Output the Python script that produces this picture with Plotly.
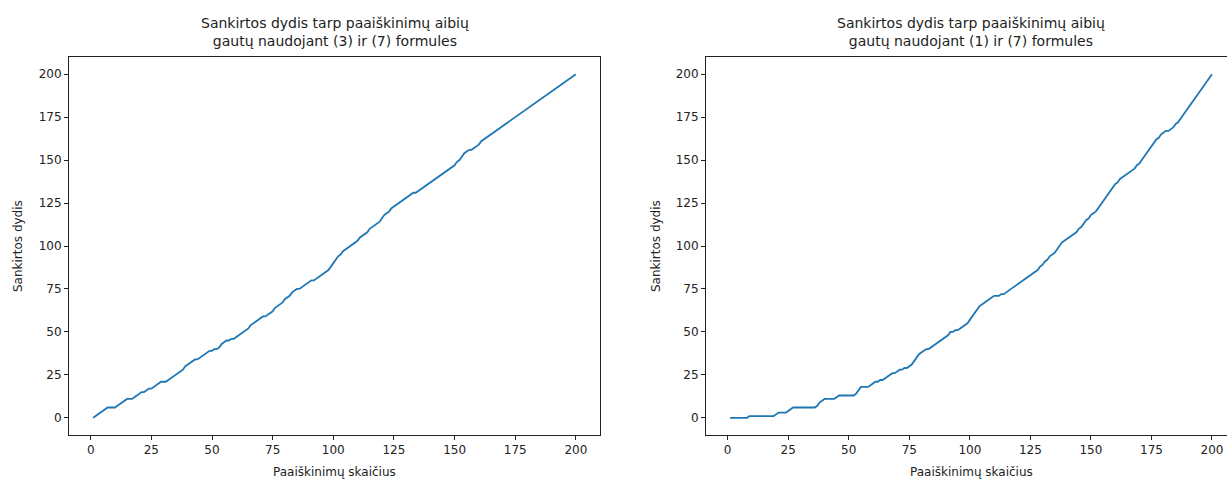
import plotly.graph_objects as go

# Number of explanations (k) on the x axis
k_values = list(range(1, 201))

# Intersection size between explanation sets from formulas (3) and (7)
overlap_3_7 = [
    0, 1, 2, 3, 4, 5, 6, 6, 6, 6,
    7, 8, 9, 10, 11, 11, 11, 12, 13, 14,
    15, 15, 16, 17, 17, 18, 19, 20, 21, 21,
    21, 22, 23, 24, 25, 26, 27, 28, 30, 31,
    32, 33, 34, 34, 35, 36, 37, 38, 39, 39,
    40, 40, 41, 43, 44, 45, 45, 46, 46, 47,
    48, 49, 50, 51, 52, 54, 55, 56, 57, 58,
    59, 59, 60, 61, 62, 64, 65, 66, 67, 69,
    70, 71, 73, 74, 75, 75, 76, 77, 78, 79,
    80, 80, 81, 82, 83, 84, 85, 86, 88, 90,
    92, 94, 95, 97, 98, 99, 100, 101, 102, 103,
    105, 106, 107, 108, 110, 111, 112, 113, 114, 116,
    118, 119, 120, 122, 123, 124, 125, 126, 127, 128,
    129, 130, 131, 131, 132, 133, 134, 135, 136, 137,
    138, 139, 140, 141, 142, 143, 144, 145, 146, 147,
    149, 150, 152, 154, 155, 156, 156, 157, 158, 159,
    161, 162, 163, 164, 165, 166, 167, 168, 169, 170,
    171, 172, 173, 174, 175, 176, 177, 178, 179, 180,
    181, 182, 183, 184, 185, 186, 187, 188, 189, 190,
    191, 192, 193, 194, 195, 196, 197, 198, 199, 200,
]

# Intersection size between explanation sets from formulas (1) and (7)
overlap_1_7 = [
    0, 0, 0, 0, 0, 0, 0, 0, 1, 1,
    1, 1, 1, 1, 1, 1, 1, 1, 1, 2,
    3, 3, 3, 3, 4, 5, 6, 6, 6, 6,
    6, 6, 6, 6, 6, 6, 7, 9, 10, 11,
    11, 11, 11, 11, 12, 13, 13, 13, 13, 13,
    13, 13, 14, 16, 18, 18, 18, 18, 19, 20,
    21, 21, 22, 22, 23, 24, 25, 26, 26, 27,
    28, 28, 29, 29, 30, 31, 33, 35, 37, 38,
    39, 40, 40, 41, 42, 43, 44, 45, 46, 47,
    48, 50, 50, 51, 51, 52, 53, 54, 55, 57,
    59, 61, 63, 65, 66, 67, 68, 69, 70, 71,
    71, 71, 72, 72, 73, 74, 75, 76, 77, 78,
    79, 80, 81, 82, 83, 84, 85, 86, 88, 89,
    91, 92, 94, 95, 96, 98, 100, 102, 103, 104,
    105, 106, 107, 108, 110, 111, 113, 115, 116, 118,
    119, 120, 122, 124, 126, 128, 130, 132, 134, 136,
    137, 139, 140, 141, 142, 143, 144, 145, 147, 148,
    150, 152, 154, 156, 158, 160, 162, 163, 165, 166,
    167, 167, 168, 169, 171, 172, 174, 176, 178, 180,
    182, 184, 186, 188, 190, 192, 194, 196, 198, 200,
]

tick_vals = [0, 25, 50, 75, 100, 125, 150, 175, 200]
titles = [
    "Sankirtos dydis tarp paaiškinimų aibių<br>gautų naudojant (3) ir (7) formules",
    "Sankirtos dydis tarp paaiškinimų aibių<br>gautų naudojant (1) ir (7) formules",
]
x_label = "Paaiškinimų skaičius"
y_label = "Sankirtos dydis"

W, H = 1227, 479
FONT = "DejaVu Sans"
LINE_COLOR = "#1f77b4"

# Panel geometry in pixels
plot_top, plot_bottom = 57, 435
left_px = (69, 600)
right_px = (706, 1227)


def px_x(p):
    return p / W


def px_y(p):
    return 1 - p / H


fig = go.Figure()
fig.add_trace(go.Scatter(x=k_values, y=overlap_3_7, mode="lines",
                         line=dict(color=LINE_COLOR, width=1.8),
                         xaxis="x", yaxis="y", showlegend=False))
fig.add_trace(go.Scatter(x=k_values, y=overlap_1_7, mode="lines",
                         line=dict(color=LINE_COLOR, width=1.8),
                         xaxis="x2", yaxis="y2", showlegend=False))

axis_common = dict(
    showgrid=False, zeroline=False, showline=True, linecolor="#222",
    linewidth=1, ticks="outside", ticklen=4, tickwidth=1, tickcolor="#222",
    tickvals=tick_vals, tickfont=dict(family=FONT, size=12, color="#222"),
)

yrange = [-10, 210]
fig.update_layout(
    width=W, height=H,
    margin=dict(l=0, r=0, t=0, b=0),
    paper_bgcolor="white", plot_bgcolor="white",
    xaxis=dict(axis_common, domain=[px_x(left_px[0]), px_x(left_px[1])],
               range=[-8.95, 209.95], mirror=True, anchor="y"),
    yaxis=dict(axis_common, domain=[px_y(plot_bottom), px_y(plot_top)],
               range=yrange, mirror=True, anchor="x"),
    xaxis2=dict(axis_common, domain=[px_x(right_px[0]), px_x(right_px[1])],
                range=[-8.95, 206.2], mirror=True, anchor="y2"),
    yaxis2=dict(axis_common, domain=[px_y(plot_bottom), px_y(plot_top)],
                range=yrange, mirror=False, anchor="x2"),
)

annotations = []
centers = [(69 + 600) / 2, (706 + 1236) / 2]
for cx, title in zip(centers, titles):
    annotations.append(dict(
        text=title, x=px_x(cx), y=px_y(51), xref="paper", yref="paper",
        xanchor="center", yanchor="bottom", showarrow=False,
        font=dict(family=FONT, size=14, color="#222"), align="center",
    ))
    annotations.append(dict(
        text=x_label, x=px_x(cx - 0), y=px_y(463), xref="paper", yref="paper",
        xanchor="center", yanchor="top", showarrow=False,
        font=dict(family=FONT, size=12, color="#222"),
    ))
for lx in (18, 656):
    annotations.append(dict(
        text=y_label, x=px_x(lx), y=px_y((plot_top + plot_bottom) / 2),
        xref="paper", yref="paper", xanchor="center", yanchor="middle",
        textangle=-90, showarrow=False,
        font=dict(family=FONT, size=12, color="#222"),
    ))
fig.update_layout(annotations=annotations)

fig.write_html("out.html")
